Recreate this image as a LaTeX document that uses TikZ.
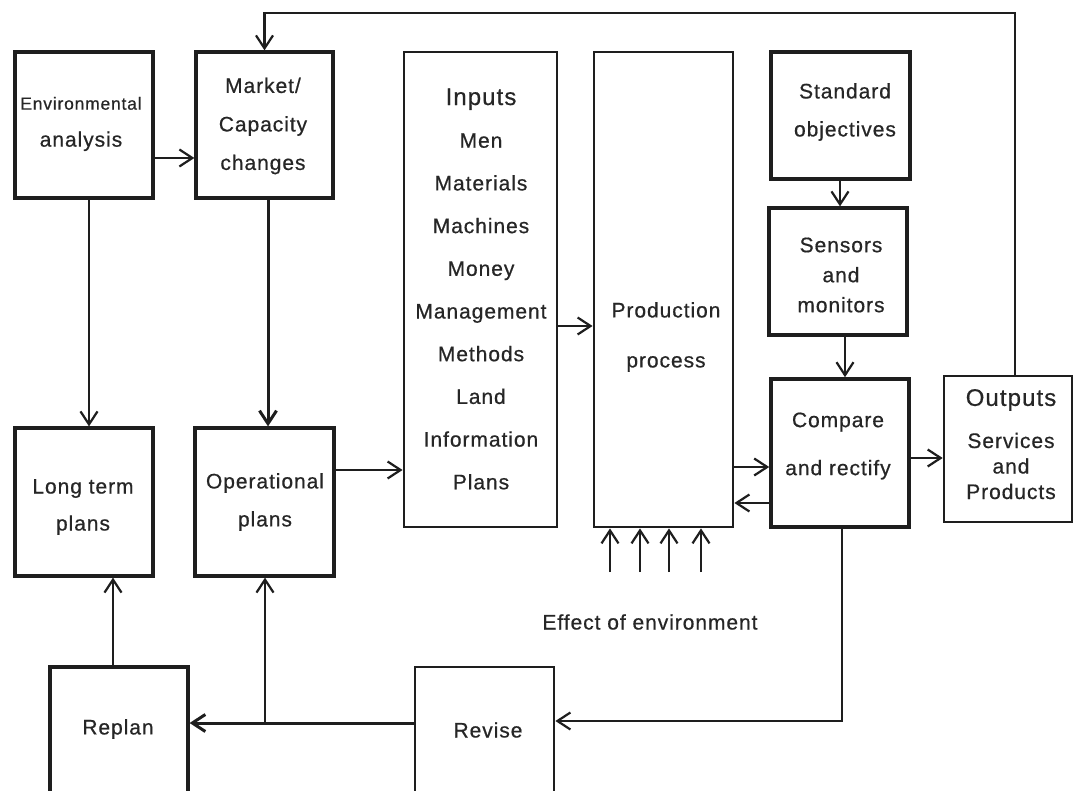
\documentclass[tikz,border=0pt]{standalone}
\usepackage{fontspec}
\setmainfont{Liberation Sans}[LetterSpace=4.5,FakeBold=0.6]
\usetikzlibrary{arrows.meta}
\definecolor{linec}{HTML}{1E1E1E}
\definecolor{textc}{HTML}{262626}
\begin{document}
\begin{tikzpicture}[x=1pt,y=-1pt,
  box/.style 2 args={draw=linec,line width=3.2pt,minimum width=#1,minimum height=#2,inner sep=0pt},
  txt/.style={align=center,text=textc,inner sep=0pt},
  conn/.style={draw=linec,line width=2.2pt,-{Straight Barb[length=13pt,width=17pt]}},
  thick conn/.style={conn,line width=3pt}]
\useasboundingbox (0,0) rectangle (1074,791);
\fill[white] (0,0) rectangle (1074,791);

% boxes
\node[box={138pt}{146pt}] (env) at (84,125) {};
\node[box={137pt}{146pt}] (market) at (264.5,125) {};
\node[box={138pt}{148pt}] (longterm) at (84,502) {};
\node[box={139pt}{148pt}] (oper) at (264.5,502) {};
\node[box={153pt}{475pt},line width=2.8pt] (inputs) at (480.5,289.5) {};
\node[box={139pt}{475pt},line width=2.8pt] (prod) at (663.5,289.5) {};
\node[box={139pt}{127pt}] (std) at (840.5,115.5) {};
\node[box={138pt}{127pt}] (sens) at (838,271.5) {};
\node[box={138pt}{148pt},line width=3.6pt] (comp) at (840,453) {};
\node[box={128pt}{146pt},line width=2.6pt] (out) at (1008,449) {};
\node[box={138pt}{150pt}] (replan) at (119,742) {};
\node[box={139pt}{150pt},line width=2.8pt] (revise) at (484.5,742) {};

% texts
\node[txt,font=\fontsize{21}{37}\selectfont] (envT) at (81,124)
  {{\fontsize{17.5}{37}\selectfont Environmental}\\analysis};
\node[txt,font=\fontsize{21}{38.5}\selectfont] (marketT) at (263,126) {Market/\\Capacity\\changes};
\node[txt,font=\fontsize{21}{37}\selectfont] (longtermT) at (83,507) {Long term\\plans};
\node[txt,font=\fontsize{21}{38}\selectfont] (operT) at (265,502) {Operational\\plans};
\node[txt,font=\fontsize{21}{25}\selectfont] (replanT) at (118,729) {Replan};
\node[txt,font=\fontsize{21}{25}\selectfont] (reviseT) at (488,730) {Revise};
\node[txt,font=\fontsize{21}{42.7}\selectfont] (inputsT) at (481,289)
  {{\fontsize{24}{42.7}\selectfont Inputs}\\Men\\Materials\\Machines\\Money\\Management\\Methods\\Land\\Information\\Plans};
\node[txt,font=\fontsize{21}{50}\selectfont] (prodT) at (666,337) {Production\\process};
\node[txt,font=\fontsize{21}{38}\selectfont] (stdT) at (845,112) {Standard\\objectives};
\node[txt,font=\fontsize{21}{30}\selectfont] (sensT) at (841,275) {Sensors\\and\\monitors};
\node[txt,font=\fontsize{21}{48}\selectfont] (compT) at (838,446) {Compare\\and rectify};
\node[txt,font=\fontsize{24}{30}\selectfont] (outT) at (1011,400) {Outputs};
\node[txt,font=\fontsize{21}{25.5}\selectfont] (outL) at (1011,466) {Services\\and\\Products};
\node[txt,font=\fontsize{21}{25}\selectfont] (effect) at (650,622) {Effect of environment};

% connectors
\draw[conn] (env.east |- 0,158) -- (market.west |- 0,158);
\draw[conn] (env.south -| 89,0) -- (longterm.north -| 89,0);
\draw[thick conn] (market.south -| 268,0) -- (oper.north -| 268,0);
\draw[conn] (oper.east |- 0,470) -- (inputs.west |- 0,470);
\draw[conn] (inputs.east |- 0,326) -- (prod.west |- 0,326);
\draw[conn] (prod.east |- 0,467) -- (comp.west |- 0,467);
\draw[conn] (comp.west |- 0,503) -- (prod.east |- 0,503);
\draw[conn] (comp.east |- 0,458) -- (out.west |- 0,458);
\draw[conn] (std.south -| 840,0) -- (sens.north -| 840,0);
\draw[conn] (sens.south -| 845,0) -- (comp.north -| 845,0);

% feedback from outputs to market changes
\coordinate (fbR) at (1015,13);
\coordinate (fbL) at (264.5,13);
\draw[conn] (out.north -| fbR) -- (fbR) -- (fbL) -- (market.north -| fbL);

% compare -> revise -> replan / operational plans
\coordinate (rvR) at (842,721);
\draw[conn] (comp.south -| rvR) -- (rvR) -- (revise.east |- rvR);
\coordinate (br) at (265,723);
\draw[thick conn] (revise.west |- br) -- (replan.east |- br);
\draw[conn] (br) -- (oper.south -| br);
\draw[conn] (replan.north -| 113,0) -- (longterm.south -| 113,0);

% effect of environment
\foreach \x in {610,640,669,701}
  \draw[conn] (\x,572) -- (prod.south -| \x,0);
\end{tikzpicture}
\end{document}
